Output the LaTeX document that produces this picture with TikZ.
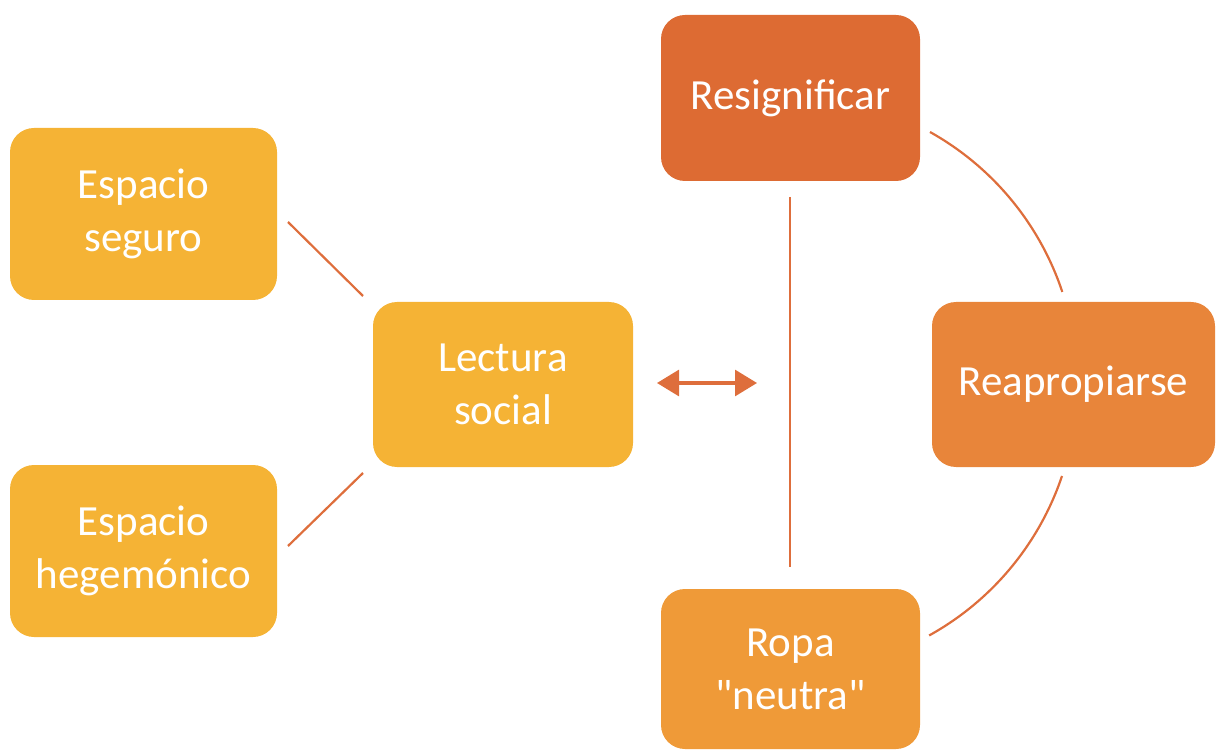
\documentclass[tikz,border=0pt]{standalone}
\usepackage{fontspec}
% plain family, so straight quotes stay straight
\newfontfamily\boxfont{Carlito}
\usetikzlibrary{arrows.meta}
\definecolor{cyellow}{HTML}{F5B335}
\definecolor{cdark}{HTML}{DD6B33}
\definecolor{cmid}{HTML}{E8853A}
\definecolor{clight}{HTML}{EF9A38}
\definecolor{cline}{HTML}{DE6E3C}
\begin{document}
\begin{tikzpicture}[x=1pt,y=-1pt,
  box/.style={rounded corners=24pt, draw=none, text=white, align=center,
    font=\boxfont\fontsize{43}{53}\selectfont, inner sep=0pt},
  link/.style={draw=cline, line width=2.2pt},
  arr/.style={draw=cline, line width=3pt, {Triangle[length=22pt,width=26pt]}-{Triangle[length=22pt,width=26pt]}}]
  \useasboundingbox (0,0) rectangle (1216,751);
  % left group
  \node[box, fill=cyellow, minimum width=267pt, minimum height=172pt] (seg) at (143.5,214) {Espacio\\seguro};
  \node[box, fill=cyellow, minimum width=267pt, minimum height=172pt] (heg) at (143.5,551) {Espacio\\hegemónico};
  \node[box, fill=cyellow, minimum width=260pt, minimum height=165pt] (lec) at (503,384.5) {Lectura\\social};
  % right group
  \node[box, fill=cdark, minimum width=259pt, minimum height=166pt] (res) at (790.5,98) {Resignificar};
  \node[box, fill=cmid, minimum width=283pt, minimum height=165pt] (rea) at (1073.5,384.5) {Reapropiarse};
  \node[box, fill=clight, minimum width=259pt, minimum height=160pt] (rop) at (790.5,669) {Ropa\\"neutra"};
  % connector end points
  \coordinate (s1) at (288,222);
  \coordinate (s2) at (363,296);
  \coordinate (h1) at (288,546);
  \coordinate (h2) at (363,473);
  \coordinate (a1) at (657,383);
  \coordinate (a2) at (757,383);
  \coordinate (v1) at (790,197);
  \coordinate (v2) at (790,567);
  \coordinate (c1) at (930,132);
  \coordinate (c3) at (1062,476);
  % links
  \draw[link] (s1) -- (s2);
  \draw[link] (h1) -- (h2);
  \draw[arr] (a1) -- (a2);
  \draw[link] (v1) -- (v2);
  \draw[link] (c1) arc[start angle=-60.8, end angle=-18.4, radius=287];
  \draw[link] (c3) arc[start angle=18.6, end angle=61, radius=287];
\end{tikzpicture}
\end{document}
